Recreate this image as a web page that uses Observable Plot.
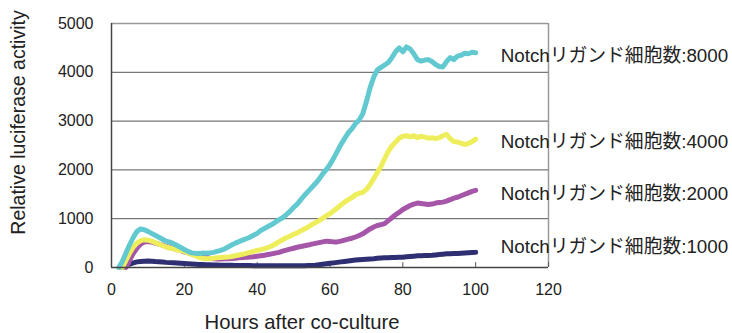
<!DOCTYPE html>
<html>
<head>
<meta charset="utf-8">
<script src="https://cdn.jsdelivr.net/npm/d3@7"></script>
<script src="https://cdn.jsdelivr.net/npm/@observablehq/plot@0.6"></script>
<style>
  html, body { margin: 0; padding: 0; background: #fff; }
  #chart { width: 732px; height: 333px; }
</style>
</head>
<body>
<div id="chart"></div>
<script>
// ---- data ----
const seriesNames = ["1000", "2000", "4000", "8000"];
const seriesLabels = ["Notchリガンド細胞数:1000", "Notchリガンド細胞数:2000", "Notchリガンド細胞数:4000", "Notchリガンド細胞数:8000"];
const startHours = [3, 4, 3, 2]; // first sampled hour of each series (1-hour steps after)

const values1000 = [
  0, 40, 70, 95, 115, 125, 130, 132, 128, 122,
  118, 112, 105, 100, 95, 90, 85, 80, 75, 70,
  66, 62, 60, 58, 55, 52, 50, 48, 47, 45,
  44, 42, 41, 40, 40, 39, 38, 38, 37, 37,
  36, 36, 35, 35, 35, 35, 35, 35, 36, 37,
  38, 40, 42, 46, 55, 65, 75, 85, 95, 105,
  115, 125, 135, 145, 152, 160, 165, 170, 175, 180,
  188, 195, 198, 200, 203, 205, 208, 212, 218, 225,
  232, 240, 242, 245, 248, 250, 258, 265, 272, 280,
  283, 285, 288, 292, 296, 300, 305, 310
];
const values2000 = [
  0, 150, 290, 400, 480, 520, 530, 520, 500, 480,
  460, 430, 410, 390, 370, 350, 320, 300, 280, 260,
  245, 235, 210, 190, 180, 175, 175, 178, 180, 185,
  190, 200, 205, 210, 215, 220, 230, 240, 250, 265,
  280, 295, 310, 335, 355, 375, 395, 415, 430, 445,
  460, 480, 495, 510, 525, 540, 535, 525, 525, 540,
  560, 580, 600, 625, 655, 690, 740, 790, 830, 860,
  880, 900, 960, 1020, 1080, 1130, 1190, 1230, 1270, 1300,
  1320, 1310, 1300, 1290, 1300, 1320, 1330, 1340, 1360, 1390,
  1420, 1440, 1470, 1500, 1530, 1560, 1580
];
const values4000 = [
  0, 150, 300, 420, 500, 550, 570, 560, 540, 510,
  480, 450, 420, 400, 380, 360, 345, 330, 300, 270,
  240, 210, 190, 180, 185, 190, 200, 205, 210, 215,
  225, 240, 255, 270, 290, 310, 330, 350, 365, 385,
  410, 440, 480, 530, 570, 610, 640, 680, 710, 750,
  790, 830, 880, 920, 960, 1010, 1060, 1100, 1160, 1220,
  1280, 1340, 1390, 1430, 1490, 1520, 1540, 1600, 1700, 1820,
  1950, 2070, 2230, 2380, 2490, 2570, 2650, 2690, 2700, 2680,
  2700, 2660, 2690, 2670, 2650, 2660, 2640, 2660, 2700, 2730,
  2640, 2580, 2570, 2550, 2520, 2540, 2580, 2630
];
const values8000 = [
  0, 130, 300, 470, 620, 740, 790, 775, 740, 700,
  660, 620, 580, 540, 520, 490, 450, 410, 370, 330,
  300, 290, 285, 295, 290, 300, 310, 330, 350, 380,
  420, 460, 500, 530, 560, 590, 620, 660, 700, 760,
  800, 840, 880, 930, 980, 1020, 1080, 1150, 1230, 1300,
  1390, 1480, 1560, 1640, 1720, 1810, 1920, 2010, 2110, 2240,
  2380, 2520, 2640, 2760, 2840, 2950, 3020, 3150, 3400, 3680,
  3900, 4050, 4100, 4150, 4200, 4300, 4420, 4500, 4420, 4520,
  4480, 4380, 4260, 4230, 4250, 4260, 4220, 4160, 4120, 4110,
  4220, 4300, 4260, 4330, 4350, 4390, 4380, 4410, 4400
];
const xTicks = [0, 20, 40, 60, 80, 100, 120];
const yTicks = [0, 1000, 2000, 3000, 4000, 5000];
const xTitle = "Hours after co-culture";
const yTitle = "Relative luciferase activity";

// ---- styles ----
const colors = ["#2E2F72", "#A656A8", "#EEEE5C", "#62C9D0"];
const labelDy = [-5, 3.5, 3, 3];

// build table
const allValues = [values1000, values2000, values4000, values8000];
const rows = [];
allValues.forEach((vals, s) => {
  vals.forEach((v, i) => rows.push({series: seriesNames[s], h: startHours[s] + i, v}));
});
const lastRows = seriesNames.map(name => rows.filter(r => r.series === name).at(-1));

const font = "'Liberation Sans', Arial, 'Noto Sans CJK JP', sans-serif";

const lineMarks = seriesNames.map((name, s) =>
  Plot.line(rows.filter(r => r.series === name), {
    x: "h", y: "v", stroke: colors[s], strokeWidth: 5,
    strokeLinejoin: "round", strokeLinecap: "round"
  })
);
const labelMarks = seriesNames.map((name, s) =>
  Plot.text([lastRows[s]], {
    x: "h", y: "v", text: () => seriesLabels[s],
    textAnchor: "start", dx: 25, dy: labelDy[s],
    fontSize: 18.8, fill: "#222",
    fontFamily: "'Liberation Sans', 'Noto Sans CJK JP', sans-serif"
  })
);

const chart = Plot.plot({
  width: 732,
  height: 333,
  marginLeft: 111,
  marginRight: 184,
  marginTop: 23,
  marginBottom: 66,
  style: {fontFamily: font, fontSize: "16px", color: "#222", background: "#fff"},
  x: {domain: [0, 120]},
  y: {domain: [0, 5000]},
  marks: [
    Plot.ruleY(yTicks.filter(t => t > 0 && t < 5000), {stroke: "#555", strokeWidth: 1}),
    Plot.ruleY([5000], {stroke: "#999", strokeWidth: 1.5}),
    Plot.ruleX([120], {stroke: "#999", strokeWidth: 1.5}),
    Plot.ruleX(xTicks.filter(t => t > 0), {y1: 0, y2: 100, stroke: "#555", strokeWidth: 1}),
    ...lineMarks,
    Plot.ruleY([0], {stroke: "#444", strokeWidth: 1.5}),
    Plot.ruleX([0], {stroke: "#444", strokeWidth: 1.5}),
    Plot.axisY({ticks: yTicks, tickFormat: d3.format("d"), tickSize: 0, tickPadding: 18, label: null, fontSize: 16, fill: "#222"}),
    Plot.axisX({ticks: xTicks, tickFormat: d3.format("d"), tickSize: 0, tickPadding: 16, label: null, fontSize: 16, fill: "#222"}),
    ...labelMarks,
    Plot.text([xTitle], {text: d => d, frameAnchor: "bottom", textAnchor: "middle", dx: -28, dy: 55, fontSize: 20.3, fill: "#222", lineAnchor: "middle"}),
    Plot.text([yTitle], {text: d => d, frameAnchor: "left", textAnchor: "middle", dx: -93, dy: -23, rotate: -90, fontSize: 19.5, fill: "#222", lineAnchor: "middle"})
  ]
});
document.getElementById("chart").appendChild(chart);
</script>
</body>
</html>
